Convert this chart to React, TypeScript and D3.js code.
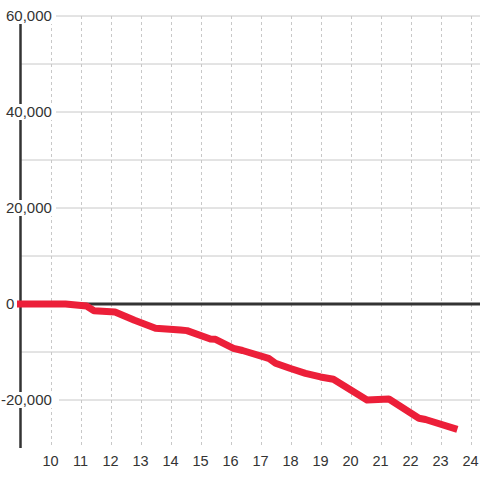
import React from "react";
import * as d3 from "d3";

const hours = [9.0, 10.5, 11.2, 11.45, 12.15, 12.8, 13.5, 14.33, 14.55, 15.33, 15.5, 16.1, 16.4, 17.27, 17.5, 18.0, 18.5, 19.0, 19.43, 20.55, 21.28, 22.28, 22.5, 23.45];
const values = [0, 0, -420, -1400, -1670, -3400, -5060, -5420, -5550, -7290, -7350, -9230, -9690, -11310, -12350, -13440, -14440, -15200, -15690, -20000, -19790, -23810, -24060, -25900];
const xTicks = [10, 11, 12, 13, 14, 15, 16, 17, 18, 19, 20, 21, 22, 23, 24];
const yGrid = [-20000, -10000, 10000, 20000, 30000, 40000, 50000, 60000];
const yLabels = [60000, 40000, 20000, 0, -20000];

const W = 480;
const H = 480;
const FONT = "'Liberation Sans', Arial, sans-serif";

export default function App() {
  const x = d3.scaleLinear().domain([9, 24.33]).range([20.5, 480.4]);
  const y = d3.scaleLinear().domain([-30000, 60000]).range([448, 16]);
  const line = d3
    .line<number>()
    .x((_, i) => x(hours[i]))
    .y((d) => y(d))
    .curve(d3.curveLinear);
  const fmt = d3.format(",");
  const minusW = 5;

  return (
    <svg
      width={W}
      height={H}
      style={{ position: "fixed", left: 0, top: 0, background: "#fff" }}
      fontFamily={FONT}
    >
      {yGrid.map((v) => (
        <line key={"hg" + v} x1={x(9)} x2={W} y1={y(v)} y2={y(v)} stroke="#c8c8c8" strokeWidth={1} />
      ))}
      {xTicks.map((t) => (
        <line
          key={"vg" + t}
          x1={Math.round(x(t)) + 0.5}
          x2={Math.round(x(t)) + 0.5}
          y1={y(60000)}
          y2={y(-30000)}
          stroke="#c8c8c8"
          strokeWidth={1}
          strokeDasharray="3,3"
        />
      ))}
      <line x1={x(9)} x2={x(9)} y1={y(60000)} y2={y(-30000)} stroke="#333" strokeWidth={2.5} />
      <line x1={x(9)} x2={W} y1={y(0)} y2={y(0)} stroke="#333" strokeWidth={3} />
      {yLabels.map((v) => {
        const label = fmt(v).replace("−", "-");
        const startX = v < 0 ? 6 - minusW : 6;
        const width = label.length * 8 + 2;
        return (
          <g key={"yl" + v}>
            <rect x={startX - 2} y={y(v) - 8} width={width + 2} height={16} fill="#fff" />
            <text x={startX} y={y(v)} dy="0.35em" fontSize={15} fill="#333">
              {label}
            </text>
          </g>
        );
      })}
      <path
        d={line(values) || ""}
        fill="none"
        stroke="#ec1f39"
        strokeWidth={7}
        strokeLinejoin="round"
        strokeLinecap="square"
      />
      {xTicks.map((t) => (
        <text key={"xl" + t} x={x(t)} y={461} dy="0.35em" fontSize={14.5} fill="#333" textAnchor="middle">
          {t}
        </text>
      ))}
    </svg>
  );
}
